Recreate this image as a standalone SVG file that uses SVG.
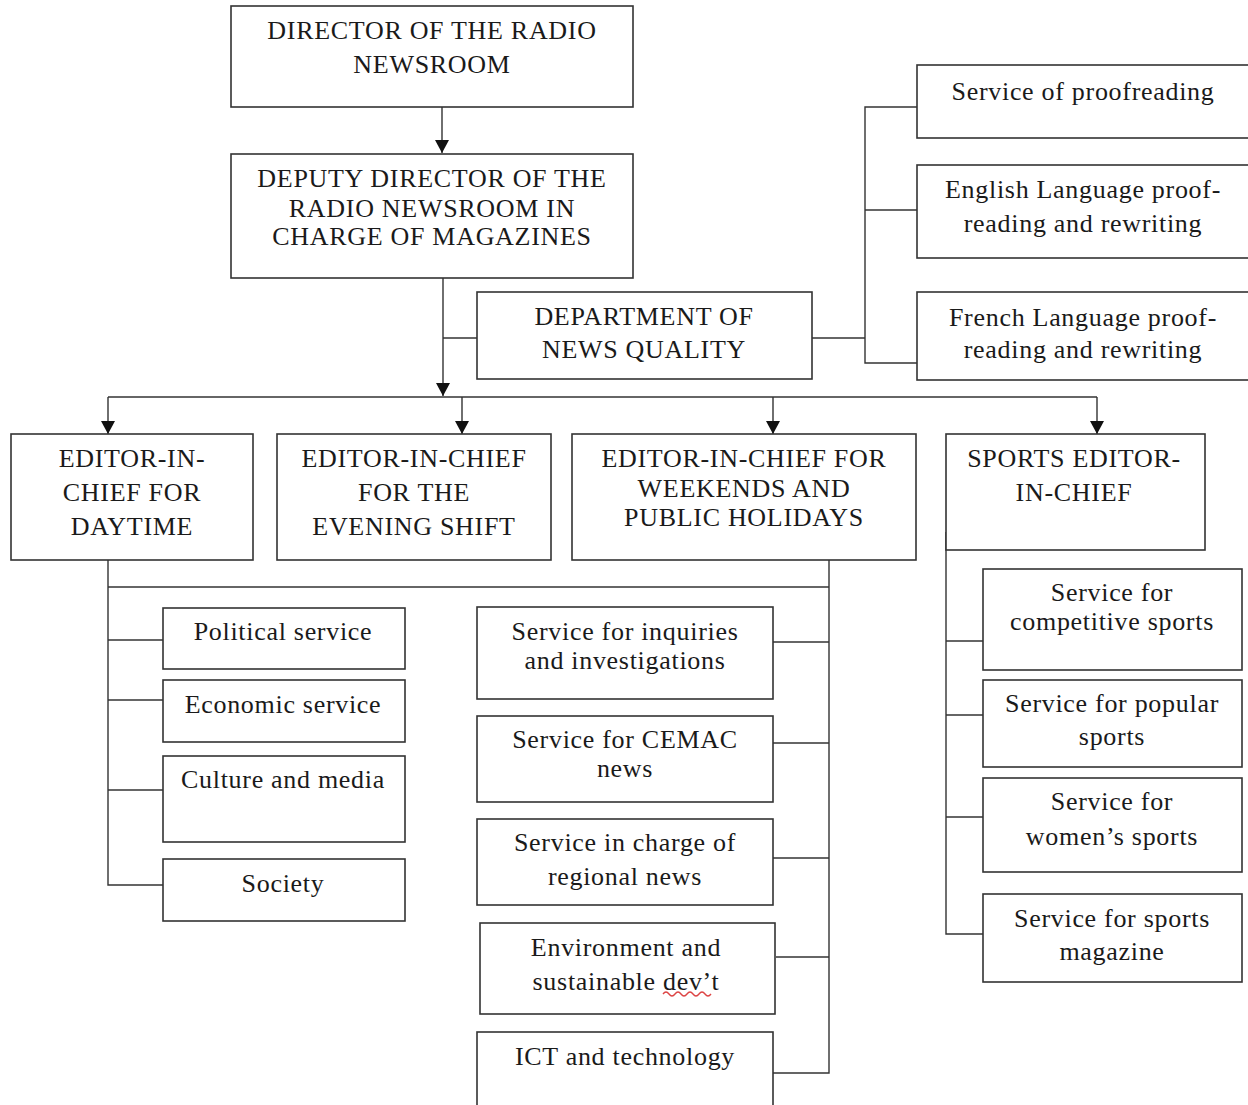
<svg xmlns="http://www.w3.org/2000/svg" width="1248" height="1105" viewBox="0 0 1248 1105">
<style>
.box{fill:#fff;stroke:#333;stroke-width:1.6}
.ln{fill:none;stroke:#333;stroke-width:1.4}
text{font-family:'Liberation Serif',Tinos,'DejaVu Serif',serif;font-size:26px;fill:#1a1a1a;text-anchor:middle;letter-spacing:0.7px}
</style>
<defs>
<marker id="ah" viewBox="0 0 13 14" refX="13" refY="7" markerWidth="13" markerHeight="14" markerUnits="userSpaceOnUse" orient="auto">
<path d="M0,0 L13,7 L0,14 Z" fill="#111"/>
</marker>
</defs>
<rect width="1248" height="1105" fill="#fff"/>
<g id="connectors">
<line class="ln" x1="442" y1="107" x2="442" y2="153" marker-end="url(#ah)"/>
<line class="ln" x1="443" y1="278" x2="443" y2="396" marker-end="url(#ah)"/>
<line class="ln" x1="443" y1="338" x2="477" y2="338"/>
<line class="ln" x1="812" y1="338" x2="865" y2="338"/>
<polyline class="ln" points="917,107 865,107 865,363 917,363"/>
<line class="ln" x1="865" y1="210" x2="917" y2="210"/>
<line class="ln" x1="108" y1="397" x2="1097" y2="397"/>
<line class="ln" x1="108" y1="397" x2="108" y2="434" marker-end="url(#ah)"/>
<line class="ln" x1="462" y1="397" x2="462" y2="434" marker-end="url(#ah)"/>
<line class="ln" x1="773" y1="397" x2="773" y2="434" marker-end="url(#ah)"/>
<line class="ln" x1="1097" y1="397" x2="1097" y2="434" marker-end="url(#ah)"/>
<polyline class="ln" points="108,560 108,885 163,885"/>
<line class="ln" x1="108" y1="587" x2="829" y2="587"/>
<line class="ln" x1="108" y1="640" x2="163" y2="640"/>
<line class="ln" x1="108" y1="700" x2="163" y2="700"/>
<line class="ln" x1="108" y1="790" x2="163" y2="790"/>
<polyline class="ln" points="829,560 829,1073 773,1073"/>
<line class="ln" x1="773" y1="642" x2="829" y2="642"/>
<line class="ln" x1="773" y1="743" x2="829" y2="743"/>
<line class="ln" x1="773" y1="858" x2="829" y2="858"/>
<line class="ln" x1="776" y1="957" x2="829" y2="957"/>
<polyline class="ln" points="946,532 946,934 983,934"/>
<line class="ln" x1="946" y1="641" x2="983" y2="641"/>
<line class="ln" x1="946" y1="715" x2="983" y2="715"/>
<line class="ln" x1="946" y1="817" x2="983" y2="817"/>
</g>
<g id="director"><rect class="box" x="231" y="6" width="402" height="101"/><text x="432" y="39">DIRECTOR OF THE RADIO</text><text x="432" y="73">NEWSROOM</text></g>
<g id="deputy"><rect class="box" x="231" y="154" width="402" height="124"/><text x="432" y="187">DEPUTY DIRECTOR OF THE</text><text x="432" y="217">RADIO NEWSROOM IN</text><text x="432" y="245">CHARGE OF MAGAZINES</text></g>
<g id="dept-quality"><rect class="box" x="477" y="292" width="335" height="87"/><text x="644" y="325">DEPARTMENT OF</text><text x="644" y="358">NEWS QUALITY</text></g>
<g id="proofreading"><rect class="box" x="917" y="65" width="336" height="73"/><text x="1083" y="100">Service of proofreading</text></g>
<g id="english"><rect class="box" x="917" y="165" width="336" height="93"/><text x="1083" y="198">English Language proof-</text><text x="1083" y="232">reading and rewriting</text></g>
<g id="french"><rect class="box" x="917" y="292" width="336" height="88"/><text x="1083" y="326">French Language proof-</text><text x="1083" y="358">reading and rewriting</text></g>
<g id="daytime"><rect class="box" x="11" y="434" width="242" height="126"/><text x="132" y="467">EDITOR-IN-</text><text x="132" y="501">CHIEF FOR</text><text x="132" y="535">DAYTIME</text></g>
<g id="evening"><rect class="box" x="277" y="434" width="274" height="126"/><text x="414" y="467">EDITOR-IN-CHIEF</text><text x="414" y="501">FOR THE</text><text x="414" y="535">EVENING SHIFT</text></g>
<g id="weekends"><rect class="box" x="572" y="434" width="344" height="126"/><text x="744" y="467">EDITOR-IN-CHIEF FOR</text><text x="744" y="497">WEEKENDS AND</text><text x="744" y="526">PUBLIC HOLIDAYS</text></g>
<g id="sports"><rect class="box" x="946" y="434" width="259" height="116"/><text x="1074" y="467">SPORTS EDITOR-</text><text x="1074" y="501">IN-CHIEF</text></g>
<g id="political"><rect class="box" x="163" y="608" width="242" height="61"/><text x="283" y="640">Political service</text></g>
<g id="economic"><rect class="box" x="163" y="680" width="242" height="62"/><text x="283" y="713">Economic service</text></g>
<g id="culture"><rect class="box" x="163" y="756" width="242" height="86"/><text x="283" y="788">Culture and media</text></g>
<g id="society"><rect class="box" x="163" y="859" width="242" height="62"/><text x="283" y="892">Society</text></g>
<g id="inquiries"><rect class="box" x="477" y="607" width="296" height="92"/><text x="625" y="640">Service for inquiries</text><text x="625" y="669">and investigations</text></g>
<g id="cemac"><rect class="box" x="477" y="716" width="296" height="86"/><text x="625" y="748">Service for CEMAC</text><text x="625" y="777">news</text></g>
<g id="regional"><rect class="box" x="477" y="819" width="296" height="86"/><text x="625" y="851">Service in charge of</text><text x="625" y="885">regional news</text></g>
<g id="environment"><rect class="box" x="480" y="923" width="295" height="91"/><text x="626" y="956">Environment and</text><text x="626" y="990">sustainable dev’t</text><path d="M663,994 q3,-4 6,0 t6,0 t6,0 t6,0 t6,0 t6,0 t6,0 t6,0" fill="none" stroke="#d44" stroke-width="1.3"/></g>
<g id="ict"><rect class="box" x="477" y="1032" width="296" height="80"/><text x="625" y="1065">ICT and technology</text></g>
<g id="competitive"><rect class="box" x="983" y="569" width="259" height="101"/><text x="1112" y="601">Service for</text><text x="1112" y="630">competitive sports</text></g>
<g id="popular"><rect class="box" x="983" y="680" width="259" height="87"/><text x="1112" y="712">Service for popular</text><text x="1112" y="745">sports</text></g>
<g id="womens"><rect class="box" x="983" y="778" width="259" height="94"/><text x="1112" y="810">Service for</text><text x="1112" y="845">women’s sports</text></g>
<g id="magazine"><rect class="box" x="983" y="894" width="259" height="88"/><text x="1112" y="927">Service for sports</text><text x="1112" y="960">magazine</text></g>
</svg>
